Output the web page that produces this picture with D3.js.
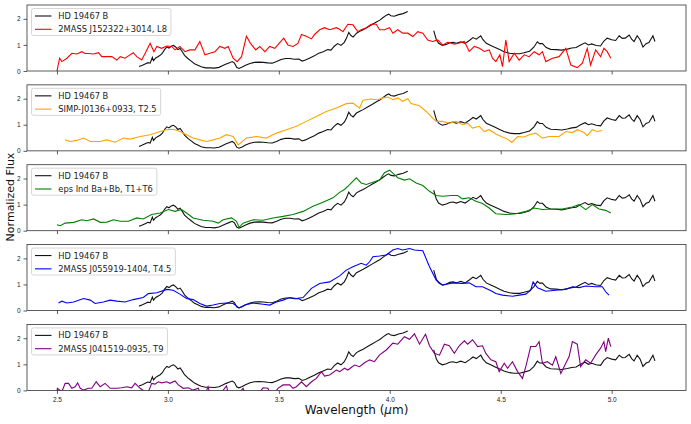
<!DOCTYPE html>
<html>
<head>
<meta charset="utf-8">
<script src="https://cdn.jsdelivr.net/npm/d3@7"></script>
<style>
body { margin: 0; background: #fff; }
svg { font-family: "DejaVu Sans", sans-serif; }
</style>
</head>
<body>
<svg id="chart" width="691" height="424"></svg>
<script>
// HD 19467 B, two pieces with a gap near 4.1 um
const hdBlue = [
  [2.870,0.17],[2.885,0.22],[2.900,0.28],[2.910,0.32],[2.920,0.30],[2.930,0.52],[2.935,0.40],
  [2.945,0.50],[2.955,0.55],[2.965,0.60],[2.975,0.68],[2.985,0.82],[2.995,0.92],[3.005,0.88],
  [3.015,0.95],[3.025,0.98],[3.035,0.92],[3.045,0.82],[3.055,0.86],[3.065,0.74],[3.075,0.60],
  [3.090,0.48],[3.105,0.38],[3.120,0.28],[3.135,0.22],[3.150,0.16],[3.170,0.12],[3.190,0.12],
  [3.210,0.11],[3.230,0.14],[3.245,0.20],[3.260,0.26],[3.275,0.31],[3.290,0.36],[3.300,0.30],
  [3.310,0.14],[3.320,0.10],[3.335,0.15],[3.350,0.22],[3.370,0.29],[3.390,0.33],[3.410,0.34],
  [3.430,0.33],[3.450,0.31],[3.470,0.30],[3.490,0.36],[3.510,0.44],[3.530,0.48],[3.550,0.48],
  [3.570,0.45],[3.590,0.46],[3.605,0.38],[3.620,0.42],[3.640,0.50],[3.660,0.58],[3.680,0.68],
  [3.700,0.74],[3.720,0.82],[3.735,0.80],[3.750,0.95],[3.765,1.05],[3.780,0.98],[3.795,1.10],
  [3.805,1.26],[3.815,1.48],[3.825,1.36],[3.835,1.30],[3.850,1.45],[3.865,1.52],[3.880,1.58],
  [3.900,1.68],[3.920,1.78],[3.940,1.88],[3.955,1.95],[3.970,2.05],[3.985,2.14],[3.995,2.18],
  [4.005,2.12],[4.020,2.10],[4.040,2.16],[4.060,2.20],[4.081,2.28]
];
const hdRed = [
  [4.198,1.55],[4.210,1.20],[4.220,1.06],[4.237,0.98],[4.255,1.02],[4.270,1.08],[4.285,1.10],
  [4.300,1.06],[4.320,1.12],[4.340,1.06],[4.360,1.18],[4.375,1.28],[4.390,1.22],[4.410,1.35],
  [4.420,1.20],[4.435,1.06],[4.455,0.98],[4.475,0.90],[4.495,0.82],[4.515,0.74],[4.540,0.68],
  [4.560,0.66],[4.585,0.66],[4.605,0.70],[4.630,0.76],[4.650,0.92],[4.665,1.12],[4.675,1.05],
  [4.688,1.05],[4.705,0.90],[4.725,0.83],[4.750,0.82],[4.775,0.80],[4.800,0.84],[4.820,0.88],
  [4.840,0.90],[4.860,1.00],[4.880,1.08],[4.895,1.00],[4.910,1.04],[4.930,0.98],[4.950,0.96],
  [4.965,1.15],[4.980,1.26],[5.000,1.20],[5.018,1.17],[5.034,1.35],[5.048,1.25],[5.061,1.26],
  [5.079,1.38],[5.090,1.22],[5.101,1.13],[5.115,1.35],[5.128,1.20],[5.141,0.92],[5.155,1.05],
  [5.168,1.09],[5.186,1.35],[5.195,1.13]
];

const l8 = [
  [2.500,0.00],[2.512,0.49],[2.522,0.36],[2.545,0.49],[2.567,0.68],[2.590,0.65],[2.612,0.74],
  [2.627,0.67],[2.642,0.67],[2.665,0.65],[2.687,0.70],[2.702,0.55],[2.725,0.55],[2.747,0.55],
  [2.770,0.42],[2.785,0.55],[2.807,0.49],[2.822,0.58],[2.844,0.70],[2.860,0.55],[2.882,0.42],
  [2.897,0.67],[2.920,1.06],[2.937,0.74],[2.950,0.94],[2.972,0.87],[2.995,0.96],[3.017,0.94],
  [3.032,0.81],[3.054,0.94],[3.077,0.74],[3.099,0.81],[3.122,0.81],[3.144,1.13],[3.167,0.62],
  [3.189,0.68],[3.212,0.74],[3.234,0.94],[3.257,0.87],[3.272,0.94],[3.294,0.49],[3.312,0.36],
  [3.332,0.55],[3.354,1.33],[3.372,1.06],[3.396,0.81],[3.414,0.94],[3.437,0.74],[3.459,0.94],
  [3.482,0.87],[3.501,1.06],[3.522,1.26],[3.541,1.00],[3.564,0.94],[3.586,1.06],[3.602,1.40],
  [3.624,1.33],[3.647,1.23],[3.661,1.40],[3.684,1.58],[3.706,1.66],[3.729,1.58],[3.759,1.66],
  [3.774,1.60],[3.789,1.51],[3.811,1.79],[3.834,1.77],[3.856,1.51],[3.871,1.58],[3.894,1.66],
  [3.916,1.79],[3.939,1.79],[3.954,1.58],[3.976,1.58],[3.999,1.66],[4.014,1.45],[4.036,1.58],
  [4.058,1.45],[4.081,1.45],[4.104,1.32],[4.126,1.51],[4.149,1.45],[4.171,1.19],[4.193,1.13],
  [4.216,1.19],[4.238,1.00],[4.261,1.10],[4.291,1.03],[4.313,1.07],[4.336,1.13],[4.358,0.75],
  [4.381,0.94],[4.404,0.87],[4.426,0.75],[4.448,0.81],[4.463,0.49],[4.478,0.36],[4.496,0.62],
  [4.508,0.17],[4.523,1.19],[4.538,0.36],[4.561,0.68],[4.583,0.42],[4.606,0.62],[4.628,0.55],
  [4.651,0.74],[4.673,0.62],[4.688,0.74],[4.703,0.36],[4.733,0.49],[4.763,0.55],[4.793,0.87],
  [4.816,0.23],[4.845,0.13],[4.868,0.30],[4.890,0.87],[4.905,0.23],[4.928,0.81],[4.950,0.55],
  [4.965,0.87],[4.980,0.74],[4.996,0.49]
];

const t25 = [
  [2.537,0.42],[2.560,0.36],[2.590,0.40],[2.620,0.49],[2.650,0.36],[2.695,0.36],[2.725,0.42],
  [2.762,0.33],[2.800,0.49],[2.830,0.45],[2.875,0.55],[2.920,0.62],[2.965,0.74],[2.995,0.81],
  [3.024,0.83],[3.054,0.74],[3.084,0.62],[3.114,0.49],[3.144,0.42],[3.174,0.36],[3.204,0.42],
  [3.234,0.49],[3.264,0.62],[3.294,0.55],[3.317,0.23],[3.354,0.49],[3.399,0.55],[3.444,0.49],
  [3.489,0.68],[3.534,0.81],[3.579,0.94],[3.624,1.13],[3.669,1.32],[3.714,1.51],[3.759,1.64],
  [3.774,1.70],[3.804,1.81],[3.834,1.83],[3.864,1.64],[3.879,1.94],[3.916,1.99],[3.946,1.96],
  [3.969,2.03],[3.991,2.06],[4.014,1.96],[4.036,2.03],[4.058,1.90],[4.081,2.00],[4.096,1.81],
  [4.134,1.73],[4.164,1.51],[4.186,1.32],[4.209,1.13],[4.238,1.13],[4.268,1.06],[4.298,1.13],
  [4.328,1.00],[4.351,1.06],[4.373,0.87],[4.403,0.94],[4.426,0.74],[4.448,0.81],[4.478,0.65],
  [4.508,0.53],[4.531,0.45],[4.550,0.32],[4.576,0.55],[4.606,0.53],[4.628,0.62],[4.658,0.68],
  [4.688,0.49],[4.718,0.55],[4.763,0.55],[4.793,0.74],[4.823,0.70],[4.845,0.81],[4.875,0.70],
  [4.890,0.58],[4.913,0.81],[4.935,0.74],[4.958,0.78]
];

const t1t6 = [
  [2.500,0.23],[2.515,0.19],[2.537,0.29],[2.575,0.32],[2.612,0.42],[2.635,0.38],[2.665,0.45],
  [2.695,0.32],[2.725,0.33],[2.755,0.42],[2.785,0.36],[2.822,0.36],[2.860,0.49],[2.889,0.45],
  [2.927,0.62],[2.965,0.68],[3.002,0.81],[3.032,0.74],[3.062,0.81],[3.084,0.68],[3.114,0.49],
  [3.159,0.40],[3.204,0.36],[3.227,0.29],[3.249,0.42],[3.287,0.49],[3.309,0.36],[3.321,0.13],
  [3.339,0.29],[3.384,0.42],[3.429,0.40],[3.474,0.49],[3.519,0.55],[3.564,0.62],[3.609,0.74],
  [3.654,0.94],[3.699,1.09],[3.744,1.26],[3.774,1.47],[3.796,1.58],[3.819,1.77],[3.849,2.03],
  [3.871,1.83],[3.894,1.77],[3.924,1.86],[3.954,1.94],[3.976,2.22],[3.999,2.32],[4.021,2.15],
  [4.036,2.03],[4.066,1.94],[4.089,1.99],[4.119,1.83],[4.149,1.73],[4.179,1.51],[4.209,1.35],
  [4.238,1.32],[4.276,1.35],[4.306,1.35],[4.328,1.22],[4.358,1.26],[4.388,1.13],[4.418,1.04],
  [4.448,0.87],[4.478,0.65],[4.523,0.62],[4.568,0.65],[4.613,0.74],[4.651,0.87],[4.688,0.81],
  [4.733,0.83],[4.778,0.83],[4.823,0.91],[4.853,1.00],[4.883,0.81],[4.913,1.00],[4.943,0.83],
  [4.973,0.78],[4.996,0.68]
];

const t45 = [
  [2.507,0.29],[2.522,0.36],[2.545,0.29],[2.575,0.33],[2.620,0.46],[2.650,0.40],[2.672,0.27],
  [2.709,0.33],[2.740,0.40],[2.770,0.36],[2.807,0.33],[2.844,0.42],[2.889,0.50],[2.912,0.65],
  [2.950,0.68],[2.995,0.81],[3.024,0.78],[3.054,0.63],[3.084,0.46],[3.114,0.42],[3.144,0.27],
  [3.174,0.17],[3.204,0.21],[3.234,0.27],[3.264,0.29],[3.294,0.27],[3.321,0.10],[3.347,0.21],
  [3.384,0.29],[3.429,0.24],[3.459,0.21],[3.489,0.33],[3.519,0.40],[3.549,0.50],[3.579,0.46],
  [3.609,0.50],[3.647,0.85],[3.684,1.04],[3.729,1.10],[3.774,1.33],[3.804,1.55],[3.834,1.68],
  [3.871,1.81],[3.894,1.74],[3.909,1.87],[3.924,2.06],[3.954,2.09],[3.984,2.13],[4.014,2.32],
  [4.036,2.38],[4.058,2.32],[4.089,2.38],[4.111,2.32],[4.149,2.29],[4.179,1.68],[4.209,1.17],
  [4.238,0.97],[4.283,1.06],[4.328,1.04],[4.358,1.06],[4.388,0.91],[4.418,0.91],[4.456,0.76],
  [4.478,0.65],[4.508,0.59],[4.553,0.55],[4.583,0.59],[4.613,0.63],[4.635,0.78],[4.646,1.10],
  [4.666,0.87],[4.703,0.74],[4.748,0.78],[4.793,0.81],[4.823,0.91],[4.853,0.88],[4.883,0.94],
  [4.928,0.91],[4.958,0.91],[4.973,0.72],[4.988,0.59]
];

const t9 = [
  [2.500,-0.05],[2.502,0.08],[2.522,-0.05],[2.537,0.27],[2.552,0.27],[2.567,0.08],[2.582,0.14],
  [2.593,0.29],[2.605,0.08],[2.620,0.01],[2.642,0.08],[2.657,0.08],[2.677,0.33],[2.695,0.14],
  [2.717,0.27],[2.740,0.08],[2.770,0.08],[2.792,0.10],[2.815,0.14],[2.837,0.10],[2.852,0.27],
  [2.875,0.08],[2.897,-0.05],[2.912,-0.05],[2.927,0.27],[2.942,0.24],[2.957,0.33],[2.972,0.29],
  [2.995,0.33],[3.009,0.27],[3.032,0.36],[3.047,0.21],[3.069,0.08],[3.092,0.10],[3.114,0.01],
  [3.137,0.08],[3.150,-0.20],[3.170,-0.10],[3.181,0.14],[3.190,-0.15],[3.230,-0.20],[3.264,0.17],
  [3.275,-0.20],[3.320,-0.10],[3.339,0.08],[3.350,-0.15],[3.400,-0.20],[3.429,0.10],[3.451,0.08],
  [3.460,-0.15],[3.485,-0.05],[3.496,0.08],[3.519,0.21],[3.549,0.21],[3.564,0.08],[3.579,0.14],
  [3.602,0.33],[3.624,0.14],[3.647,0.33],[3.669,0.46],[3.692,0.72],[3.706,0.55],[3.729,0.59],
  [3.759,0.78],[3.774,0.72],[3.796,0.85],[3.811,0.78],[3.841,0.97],[3.864,0.91],[3.886,1.06],
  [3.909,1.17],[3.931,1.10],[3.954,1.36],[3.984,1.55],[4.014,1.81],[4.036,1.77],[4.066,2.06],
  [4.089,1.96],[4.111,2.17],[4.134,1.77],[4.161,2.15],[4.179,1.71],[4.201,1.42],[4.224,1.35],
  [4.246,1.77],[4.268,1.71],[4.291,1.42],[4.313,1.71],[4.336,1.90],[4.351,1.77],[4.373,1.94],
  [4.396,1.68],[4.418,1.71],[4.433,1.42],[4.456,1.17],[4.478,1.10],[4.493,0.72],[4.516,1.04],
  [4.531,0.85],[4.553,1.10],[4.576,0.72],[4.598,0.46],[4.613,0.91],[4.635,1.68],[4.658,1.68],
  [4.673,1.87],[4.688,1.04],[4.710,1.10],[4.733,0.97],[4.748,1.29],[4.771,0.65],[4.793,1.04],
  [4.808,1.29],[4.823,1.87],[4.845,1.77],[4.860,0.91],[4.883,1.17],[4.905,1.04],[4.928,1.36],
  [4.950,1.62],[4.965,1.87],[4.973,1.49],[4.985,2.00],[4.996,1.68]
];

const panels = [
  { label: "2MASS J152322+3014, L8", color: "red", data: l8 },
  { label: "SIMP-J0136+0933, T2.5", color: "orange", data: t25 },
  { label: "eps Ind Ba+Bb, T1+T6", color: "green", data: t1t6 },
  { label: "2MASS J055919-1404, T4.5", color: "blue", data: t45 },
  { label: "2MASS J041519-0935, T9", color: "purple", data: t9 }
];
const xTicks = [2.5, 3.0, 3.5, 4.0, 4.5, 5.0];
const yTicks = [0, 1, 2];

const svg = d3.select("#chart");
const left = 27, right = 686, panelH = 66, step = 79.85, top0 = 5;

const x = d3.scaleLinear().domain([2.365, 5.335]).range([left, right]);

const line = d3.line()
    .x(d => x(d[0]))
    .curve(d3.curveLinear);

panels.forEach((p, i) => {

    const top = top0 + i * step;
    const y = d3.scaleLinear().domain([0, 2.53]).range([top + panelH, top]);
    line.y(d => y(d[1]));

    svg.append("clipPath")
        .attr("id", "clip" + i)
        .append("rect")
        .attr("x", left).attr("y", top)
        .attr("width", right - left).attr("height", panelH);

    const g = svg.append("g").attr("clip-path", `url(#clip${i})`);

    [hdBlue, hdRed].forEach(seg => {
        g.append("path")
            .attr("d", line(seg))
            .attr("fill", "none")
            .attr("stroke", "#111")
            .attr("stroke-width", 1.1);
    });

    g.append("path")
        .attr("d", line(p.data))
        .attr("fill", "none")
        .attr("stroke", p.color)
        .attr("stroke-width", 1.1);

    const xa = svg.append("g")
        .attr("transform", `translate(0,${top + panelH})`)
        .call(d3.axisBottom(x).tickValues(xTicks).tickSize(3.5)
            .tickFormat(i === panels.length - 1 ? d3.format(".1f") : ""));

    const ya = svg.append("g")
        .attr("transform", `translate(${left},0)`)
        .call(d3.axisLeft(y).tickValues(yTicks).tickSize(3.5).tickFormat(d3.format("d")));

    [xa, ya].forEach(a => {
        a.select(".domain").remove();
        a.selectAll("line").attr("stroke", "#333").attr("stroke-width", 0.8);
        a.selectAll("text").style("font-size", "6.5px").attr("fill", "#222");
    });

    svg.append("rect")
        .attr("x", left).attr("y", top)
        .attr("width", right - left).attr("height", panelH)
        .attr("fill", "none")
        .attr("stroke", "#333")
        .attr("stroke-width", 0.8);

    // legend
    const lg = svg.append("g");
    const box = lg.append("rect")
        .attr("x", left + 4.5).attr("y", top + 3.5)
        .attr("height", 27)
        .attr("rx", 2)
        .attr("fill", "#fff").attr("fill-opacity", 0.8)
        .attr("stroke", "#ccc").attr("stroke-width", 0.8);

    const entries = [["HD 19467 B", "#111"], [p.label, p.color]];
    let maxW = 0;
    entries.forEach((e, k) => {
        const ly = top + 11 + k * 13.3;
        lg.append("line")
            .attr("x1", left + 8).attr("x2", left + 24.5)
            .attr("y1", ly).attr("y2", ly)
            .attr("stroke", e[1]).attr("stroke-width", 1.1);
        const t = lg.append("text")
            .attr("x", left + 31.3).attr("y", ly + 3)
            .style("font-size", "8.3px")
            .attr("fill", "#222")
            .text(e[0]);
        maxW = Math.max(maxW, t.node().getComputedTextLength());
    });
    box.attr("width", 31.3 - 4.5 + maxW + 4);
});

svg.append("text")
    .attr("x", (left + right) / 2)
    .attr("y", 414)
    .attr("text-anchor", "middle")
    .style("font-size", "12px")
    .attr("fill", "#111")
    .html('Wavelength (<tspan font-style="italic">μ</tspan>m)');

svg.append("text")
    .attr("transform", "rotate(-90)")
    .attr("x", -197)
    .attr("y", 14)
    .attr("text-anchor", "middle")
    .style("font-size", "11px")
    .attr("fill", "#111")
    .text("Normalized Flux");
</script>
</body>
</html>
